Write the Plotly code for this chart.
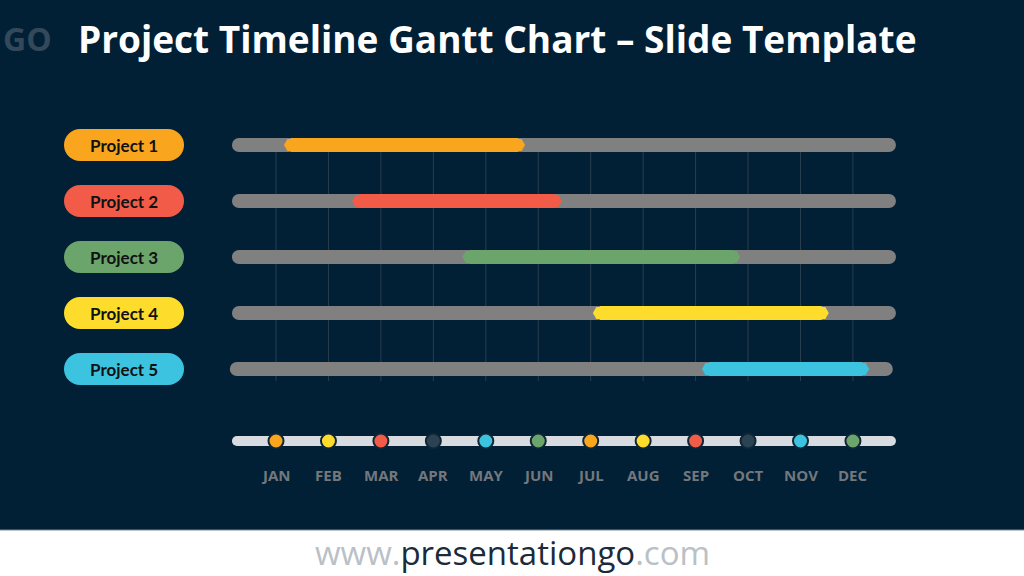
import plotly.graph_objects as go

# ---------------- data ----------------
months = ["JAN", "FEB", "MAR", "APR", "MAY", "JUN",
          "JUL", "AUG", "SEP", "OCT", "NOV", "DEC"]
month_pos = list(range(1, 13))
dot_colors = ["#F9A51E", "#FDDC2B", "#F15B47", "#2B4253", "#3CC3DF", "#6BA56B",
              "#F9A51E", "#FDDC2B", "#F15B47", "#2B4253", "#3CC3DF", "#6BA56B"]

projects = ["Project 1", "Project 2", "Project 3", "Project 4", "Project 5"]
starts = [1.17, 2.47, 4.57, 7.06, 9.14]
ends = [5.73, 6.43, 9.83, 11.52, 12.29]
bar_colors = ["#F9A51E", "#F15B47", "#6BA56B", "#FDDC2B", "#3CC3DF"]
track_starts = [0.16, 0.16, 0.16, 0.16, 0.12]
track_ends = [12.82, 12.82, 12.82, 12.82, 12.76]

title = "Project Timeline Gantt Chart \u2013 Slide Template"

# ---------------- layout constants ----------------
W, H = 1024, 576
PX0, DX = 276.0, 52.45          # pixel of JAN, pixels per month
PY0, DY = 145.0, 56.0           # pixel of row 1, pixels per row
BG = "#012035"


def mx(px):
    return 1 + (px - PX0) / DX


def ry(py):
    return 1 + (py - PY0) / DY


rows = list(range(1, len(projects) + 1))
timeline_row = ry(441)

fig = go.Figure()

# vertical month gridlines
for m in month_pos:
    fig.add_trace(go.Scatter(x=[m, m], y=[ry(150), ry(381)], mode="lines",
                             line=dict(color="#2A3D4C", width=1),
                             hoverinfo="skip", showlegend=False))

# grey tracks with rounded ends
for r, s, e in zip(rows, track_starts, track_ends):
    off = 7 / DX
    fig.add_trace(go.Scatter(x=[s + off, e - off], y=[r, r], mode="lines+markers",
                             line=dict(color="#808080", width=14),
                             marker=dict(size=14, color="#808080", symbol="circle",
                                         line=dict(width=0)),
                             hoverinfo="skip", showlegend=False))

# coloured project bars with pointed ends
for r, s, e, c in zip(rows, starts, ends, bar_colors):
    off = 6 / DX
    fig.add_trace(go.Scatter(x=[s + off, e - off], y=[r, r], mode="lines+markers",
                             line=dict(color=c, width=14),
                             marker=dict(size=14, color=c, symbol="hexagon2",
                                         line=dict(width=0)),
                             hoverinfo="skip", showlegend=False))

# project label pills
pill_a, pill_b = mx(80), mx(168)
for r, p, c in zip(rows, projects, bar_colors):
    fig.add_trace(go.Scatter(x=[pill_a, pill_b], y=[r, r], mode="lines+markers",
                             line=dict(color=c, width=32),
                             marker=dict(size=32, color=c, line=dict(width=0)),
                             hoverinfo="skip", showlegend=False))
    fig.add_annotation(x=(pill_a + pill_b) / 2, y=r, text="<b>%s</b>" % p,
                       showarrow=False, xanchor="center", yanchor="middle",
                       font=dict(family="Lato", size=17, color="#111111"))

# timeline bar
off = 5 / DX
fig.add_trace(go.Scatter(x=[track_starts[0] + off, track_ends[0] - off],
                         y=[timeline_row, timeline_row], mode="lines+markers",
                         line=dict(color="#D8DCE0", width=10),
                         marker=dict(size=10, color="#D8DCE0", line=dict(width=0)),
                         hoverinfo="skip", showlegend=False))
fig.add_trace(go.Scatter(x=month_pos, y=[timeline_row] * 12, mode="markers",
                         marker=dict(size=15, color=dot_colors,
                                     line=dict(color="#0E2535", width=2)),
                         hoverinfo="skip", showlegend=False))

# month labels
for m, lab in zip(month_pos, months):
    fig.add_annotation(x=m, y=ry(475), text="<b>%s</b>" % lab, showarrow=False,
                       xanchor="center", yanchor="middle",
                       font=dict(family="Open Sans", size=15, color="#74787D"))

# title
fig.add_annotation(x=mx(76), y=ry(38), text="<b>%s</b>" % title, showarrow=False,
                   xanchor="left", yanchor="middle",
                   font=dict(family="Open Sans", size=37, color="#FFFFFF"))
# logo mark
fig.add_annotation(x=mx(1), y=ry(38), text="<b>GO</b>", showarrow=False,
                   xanchor="left", yanchor="middle",
                   font=dict(family="Open Sans", size=32, color="#33495A"))

# footer
fig.add_shape(type="rect", xref="paper", yref="paper", x0=0, x1=1,
              y0=0, y1=46 / H, fillcolor="#FFFFFF", line=dict(width=0), layer="above")
fig.add_shape(type="line", xref="paper", yref="paper", x0=0, x1=1,
              y0=46 / H, y1=46 / H, line=dict(color="#7D8C96", width=1), layer="above")
fig.add_annotation(x=0.5, xref="paper", y=ry(552), text=
                   "<span style='color:#B9C0C6'>www.</span>"
                   "<span style='color:#1B2B3A'>presentationgo</span>"
                   "<span style='color:#B9C0C6'>.com</span>",
                   showarrow=False, xanchor="center", yanchor="middle",
                   font=dict(family="Open Sans", size=33))

fig.update_layout(
    width=W, height=H, margin=dict(l=0, r=0, t=0, b=0),
    paper_bgcolor=BG, plot_bgcolor=BG, showlegend=False, hovermode=False,
    xaxis=dict(range=[mx(0), mx(W)], visible=False, fixedrange=True),
    yaxis=dict(range=[ry(H), ry(0)], visible=False, fixedrange=True),
)

fig.write_html("out.html")
